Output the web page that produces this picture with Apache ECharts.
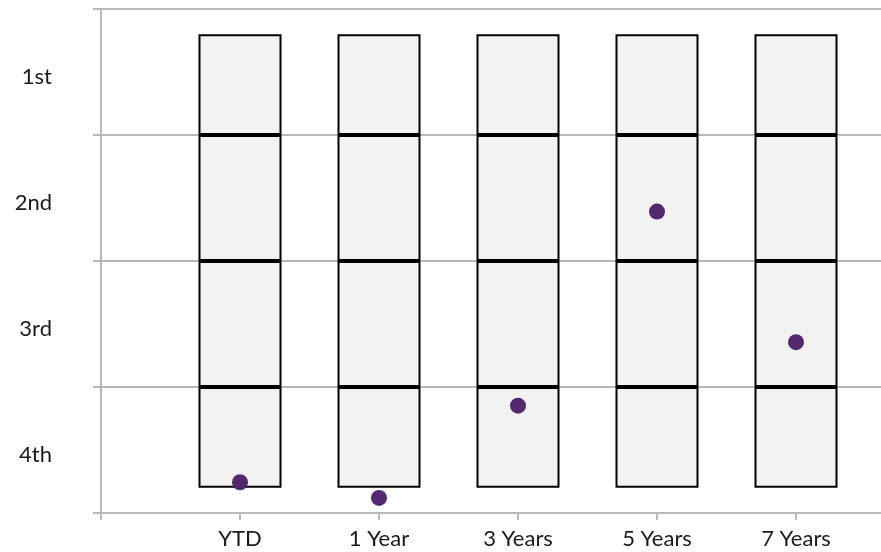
<!DOCTYPE html>
<html>
<head>
<meta charset="utf-8">
<script src="https://cdn.jsdelivr.net/npm/echarts@6/dist/echarts.min.js"></script>
<style>
  html, body { margin: 0; padding: 0; background: #ffffff; }
  #chart { width: 881px; height: 552px; }
</style>
</head>
<body>
<div id="chart"></div>
<script>
// Periods shown along the x axis
const periods = ['YTD', '1 Year', '3 Years', '5 Years', '7 Years'];
// Quartile band labels, top to bottom
const quartileLabels = ['1st', '2nd', '3rd', '4th'];
// Percentile rank of the fund in each period (0 = best)
const fundRank = [93.9, 97.0, 78.7, 40.2, 66.1];
// Peer-group box boundaries: 5th, 25th, 50th, 75th, 95th percentiles
const boxTop = [5, 5, 5, 5, 5];
const boxQ1 = [25, 25, 25, 25, 25];
const boxMedian = [50, 50, 50, 50, 50];
const boxQ3 = [75, 75, 75, 75, 75];
const boxBottom = [95, 95, 95, 95, 95];

const FONT = 'Lato, "Open Sans", sans-serif';
const GRID_GRAY = '#b8b8b8';
const TEXT = '#1a1a1a';

// Pad the category axis with an empty slot on each side
const axisCats = [''].concat(periods, ['']);
const pad = (arr) => [null].concat(arr, [null]);

// Stacked segments of each box (differences between successive boundaries)
const seg = (hi, lo) => hi.map((v, i) => v - lo[i]);
const segBase = boxTop;
const seg1 = seg(boxQ1, boxTop);
const seg2 = seg(boxMedian, boxQ1);
const seg3 = seg(boxQ3, boxMedian);
const seg4 = seg(boxBottom, boxQ3);

const boxStyle = { color: '#f2f2f2', borderColor: '#000000', borderWidth: 2 };

function boxSeries(name, data, style) {
  return {
    name: name,
    type: 'bar',
    stack: 'box',
    xAxisIndex: 0,
    yAxisIndex: 1,
    barWidth: 83,
    silent: true,
    itemStyle: style,
    data: pad(data)
  };
}

const chart = echarts.init(document.getElementById('chart'), null, { renderer: 'canvas' });

chart.setOption({
  animation: false,
  backgroundColor: '#ffffff',
  // plot area runs past the right edge so the gridlines reach the border
  grid: { left: 101, top: 9, width: 834, height: 504, containLabel: false, outerBoundsMode: 'none' },
  xAxis: {
    type: 'category',
    data: axisCats,
    boundaryGap: false,
    axisLine: { show: true, onZero: false, lineStyle: { color: GRID_GRAY, width: 2 } },
    axisTick: { show: true, length: 7, lineStyle: { color: GRID_GRAY, width: 2 } },
    axisLabel: { color: TEXT, fontFamily: FONT, fontSize: 22, margin: 15 },
    splitLine: { show: false }
  },
  yAxis: [
    {
      type: 'category',
      data: quartileLabels,
      inverse: true,
      boundaryGap: true,
      axisLine: { show: true, lineStyle: { color: GRID_GRAY, width: 2 } },
      axisTick: { show: true, length: 8, lineStyle: { color: GRID_GRAY, width: 2 } },
      axisLabel: {
        color: TEXT, fontFamily: FONT, fontSize: 22, margin: 49,
        verticalAlign: 'top', lineHeight: 9
      },
      splitLine: { show: true, lineStyle: { color: GRID_GRAY, width: 2 } }
    },
    {
      type: 'value',
      min: 0,
      max: 100,
      inverse: true,
      show: false
    }
  ],
  series: [
    boxSeries('base', segBase, { color: 'transparent', borderWidth: 0 }),
    boxSeries('5-25', seg1, boxStyle),
    boxSeries('25-50', seg2, boxStyle),
    boxSeries('50-75', seg3, boxStyle),
    boxSeries('75-95', seg4, boxStyle),
    {
      name: 'Fund',
      type: 'scatter',
      xAxisIndex: 0,
      yAxisIndex: 1,
      symbol: 'circle',
      symbolSize: 16,
      itemStyle: { color: '#54286f', opacity: 1 },
      z: 5,
      data: fundRank.map((v, i) => [i + 1, v])
    }
  ]
});
</script>
</body>
</html>
